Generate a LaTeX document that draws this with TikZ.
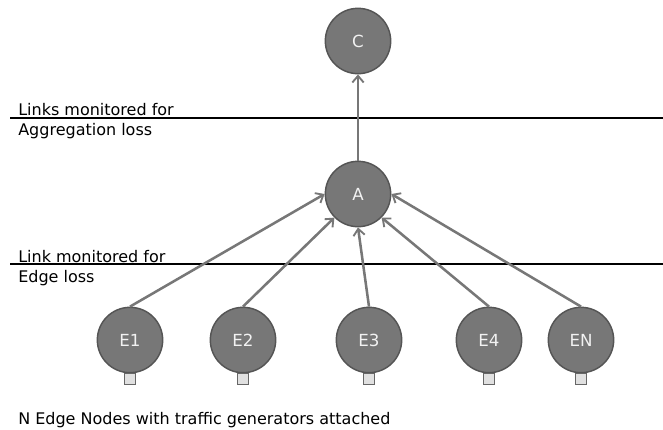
\documentclass[tikz,border=0pt]{standalone}
\usepackage{fontspec}
\setmainfont{DejaVu Sans}
\usetikzlibrary{arrows.meta}
\definecolor{nodefill}{HTML}{777777}
\definecolor{nodeedge}{HTML}{555555}
\definecolor{linkgray}{HTML}{777777}
\definecolor{genfill}{HTML}{E0E0E0}
\definecolor{genedge}{HTML}{666666}
\tikzset{
  netnode/.style={circle, fill=nodefill, draw=nodeedge, line width=1.1pt,
    minimum size=49pt, inner sep=0pt, text=white!95!black,
    font=\fontsize{12.5}{14}\selectfont},
  gen/.style={rectangle, fill=genfill, draw=genedge, line width=0.8pt,
    minimum size=8pt, inner sep=0pt, anchor=north},
  link/.style={draw=linkgray, line width=1.9pt,
    -{Straight Barb[length=5pt,width=8.5pt,line width=1.4pt]}},
  monline/.style={draw=black, line width=1.7pt},
  lbl/.style={anchor=base west, inner sep=0pt, font=\fontsize{12}{14}\selectfont}
}
\begin{document}
\begin{tikzpicture}[x=0.75pt,y=-0.75pt]
\useasboundingbox (0,0) rectangle (663,429);
% monitoring lines
\coordinate (l1a) at (10,118);
\coordinate (l1b) at (663,118);
\coordinate (l2a) at (10,264);
\coordinate (l2b) at (663,264);
\draw[monline] (l1a) -- (l1b);
\draw[monline] (l2a) -- (l2b);
% labels
\node[lbl] (t1) at (18,115) {Links monitored for};
\node[lbl] (t2) at (18,135) {Aggregation loss};
\node[lbl] (t3) at (18,262) {Link monitored for};
\node[lbl] (t4) at (18,282) {Edge loss};
\node[lbl] (t5) at (18,424) {N Edge Nodes with traffic generators attached};
% nodes
\node[netnode] (C) at (358,41) {C};
\node[netnode] (A) at (358,194) {A};
\node[netnode] (E1) at (130,340) {E1};
\node[netnode] (E2) at (243,340) {E2};
\node[netnode] (E3) at (369,340) {E3};
\node[netnode] (E4) at (489,340) {E4};
\node[netnode] (EN) at (581,340) {EN};
% generators
\node[gen] (g1) at (E1.south) {};
\node[gen] (g2) at (E2.south) {};
\node[gen] (g3) at (E3.south) {};
\node[gen] (g4) at (E4.south) {};
\node[gen] (gN) at (EN.south) {};
% links
\draw[link] (A.north) -- (C.south);
\draw[link] (E1.north) -- (A.west);
\draw[link] (E2.north) -- (A.south west);
\draw[link] (E3.north) -- (A.south);
\draw[link] (E4.north) -- (A.south east);
\draw[link] (EN.north) -- (A.east);
\end{tikzpicture}
\end{document}
